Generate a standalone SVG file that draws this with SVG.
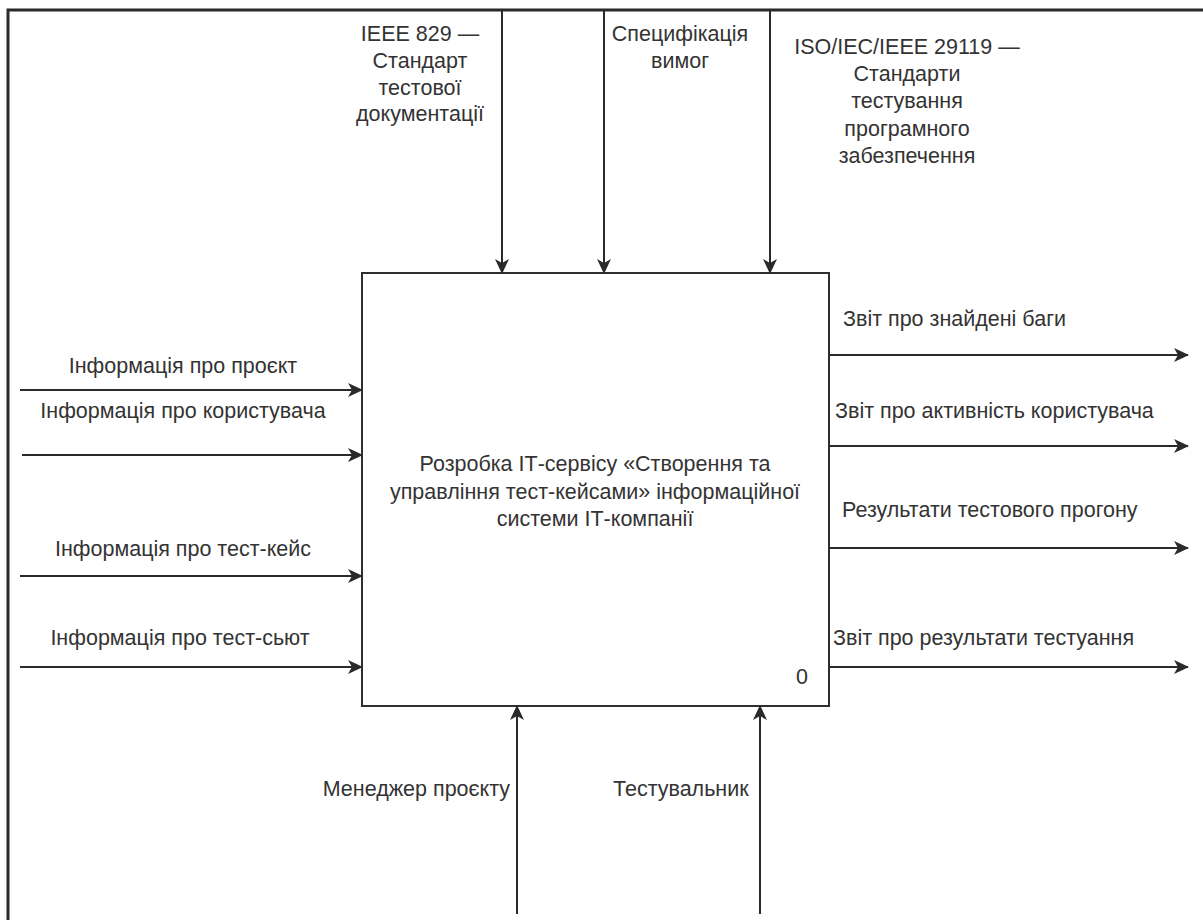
<svg xmlns="http://www.w3.org/2000/svg" width="1203" height="920" viewBox="0 0 1203 920">
  <style>
    .frame { stroke: #2a2a2a; stroke-width: 3; fill: none; }
    .box { stroke: #2f2f2f; stroke-width: 2; fill: #ffffff; }
    .flow { stroke: #2a2a2a; stroke-width: 2; fill: none; marker-end: url(#arrow); }
    text { font-family: "Liberation Sans", Arial, sans-serif; font-size: 21.5px; fill: #333333; }
    .mid { text-anchor: middle; }
    .end { text-anchor: end; }
  </style>
  <defs>
    <marker id="arrow" viewBox="0 0 15 14" refX="14" refY="7" markerWidth="15" markerHeight="14" markerUnits="userSpaceOnUse" orient="auto">
      <path d="M0,0 L15,7 L0,14 L4,7 Z" fill="#2a2a2a"/>
    </marker>
  </defs>

  <rect width="1203" height="920" fill="#ffffff"/>

  <!-- outer sheet border (top and left edges) -->
  <g id="sheet">
    <path class="frame" d="M8,920 L8,10 L1203,10"/>
  </g>

  <!-- activity box A0 -->
  <g id="activity">
    <rect class="box" x="362" y="273" width="467" height="433"/>
    <text class="mid" x="595" y="471">Розробка ІТ-сервісу «Створення та</text>
    <text class="mid" x="595" y="499">управління тест-кейсами» інформаційної</text>
    <text class="mid" x="595" y="526">системи ІТ-компанії</text>
    <text x="796" y="684">0</text>
  </g>

  <!-- connectors -->
  <g id="connectors">
    <!-- controls -->
    <line class="flow" x1="502" y1="10" x2="502" y2="273"/>
    <line class="flow" x1="604" y1="10" x2="604" y2="273"/>
    <line class="flow" x1="770" y1="10" x2="770" y2="273"/>
    <!-- inputs -->
    <line class="flow" x1="20" y1="390" x2="362" y2="390"/>
    <line class="flow" x1="22" y1="455" x2="362" y2="455"/>
    <line class="flow" x1="20" y1="576" x2="362" y2="576"/>
    <line class="flow" x1="20" y1="667" x2="362" y2="667"/>
    <!-- outputs -->
    <line class="flow" x1="829" y1="355" x2="1188" y2="355"/>
    <line class="flow" x1="829" y1="446" x2="1188" y2="446"/>
    <line class="flow" x1="829" y1="548" x2="1188" y2="548"/>
    <line class="flow" x1="829" y1="667" x2="1188" y2="667"/>
    <!-- mechanisms -->
    <line class="flow" x1="517" y1="914" x2="517" y2="706"/>
    <line class="flow" x1="760" y1="914" x2="760" y2="706"/>
  </g>

  <!-- control labels -->
  <g id="control-ieee829">
    <text class="mid" x="420" y="41">IEEE 829 —</text>
    <text class="mid" x="420" y="68">Стандарт</text>
    <text class="mid" x="420" y="95">тестової</text>
    <text class="mid" x="420" y="121">документації</text>
  </g>
  <g id="control-spec">
    <text class="mid" x="680" y="41">Специфікація</text>
    <text class="mid" x="680" y="68">вимог</text>
  </g>
  <g id="control-iso29119">
    <text class="mid" x="907" y="54">ISO/IEC/IEEE 29119 —</text>
    <text class="mid" x="907" y="81">Стандарти</text>
    <text class="mid" x="907" y="108">тестування</text>
    <text class="mid" x="907" y="136">програмного</text>
    <text class="mid" x="907" y="163">забезпечення</text>
  </g>

  <!-- input labels -->
  <g id="input-project">
    <text class="mid" x="183" y="373">Інформація про проєкт</text>
  </g>
  <g id="input-user">
    <text class="mid" x="183" y="418">Інформація про користувача</text>
  </g>
  <g id="input-testcase">
    <text class="mid" x="183" y="556">Інформація про тест-кейс</text>
  </g>
  <g id="input-testsuite">
    <text class="mid" x="180" y="645">Інформація про тест-сьют</text>
  </g>

  <!-- output labels -->
  <g id="output-bugs">
    <text x="843" y="326">Звіт про знайдені баги</text>
  </g>
  <g id="output-activity">
    <text x="835" y="418">Звіт про активність користувача</text>
  </g>
  <g id="output-run">
    <text x="842" y="517">Результати тестового прогону</text>
  </g>
  <g id="output-report">
    <text x="833" y="645">Звіт про результати тестуання</text>
  </g>

  <!-- mechanism labels -->
  <g id="mech-manager">
    <text class="end" x="510" y="796">Менеджер проєкту</text>
  </g>
  <g id="mech-tester">
    <text x="613" y="796">Тестувальник</text>
  </g>
</svg>
